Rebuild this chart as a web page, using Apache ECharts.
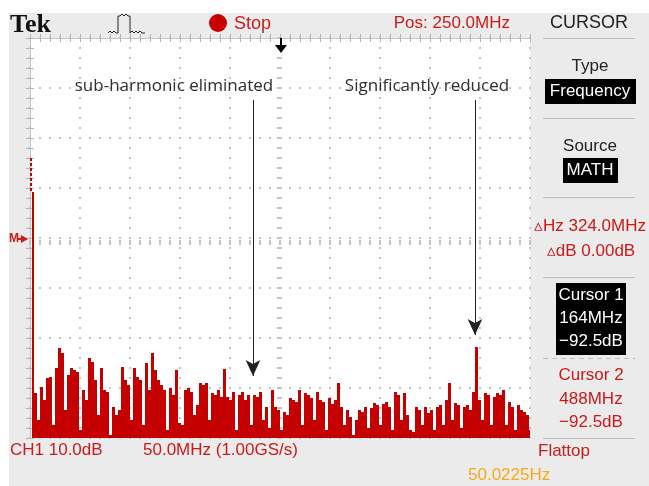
<!DOCTYPE html>
<html>
<head>
<meta charset="UTF-8">
<title>Spectrum</title>
<script src="https://cdn.jsdelivr.net/npm/echarts@6/dist/echarts.min.js"></script>
<style>
html,body{margin:0;padding:0;background:#fff;}
#main{width:649px;height:486px;}
</style>
</head>
<body>
<div id="main"></div>
<script>
// FFT trace: 0..500 MHz, 10 dB/div, 8 div (top = 0 dB)
var freqStartMHz = 4;
var binMHz = 3;
var noiseDb = [
  -71.0,-76.4,-69.8,-72.4,-68.0,-67.8,-77.4,-66.0,-62.0,-63.0,
  -74.4,-67.4,-66.0,-66.4,-66.8,-78.4,-70.4,-72.4,-64.0,-64.8,
  -68.4,-75.4,-66.0,-70.4,-70.8,-79.4,-73.8,-75.4,-74.4,-65.8,
  -68.4,-69.4,-76.4,-66.0,-67.8,-68.4,-77.4,-65.0,-70.4,-63.0,
  -66.4,-68.4,-69.4,-70.4,-78.4,-70.0,-71.4,-66.4,-77.0,-77.4,
  -70.4,-70.0,-70.8,-75.4,-73.4,-69.0,-69.4,-69.0,-76.4,-71.0,
  -71.4,-70.4,-71.8,-66.2,-71.8,-72.4,-70.8,-78.4,-71.4,-70.8,
  -72.4,-71.4,-77.4,-71.4,-71.8,-70.8,-76.4,-73.8,-78.0,-70.4,
  -73.8,-74.4,-78.4,-74.8,-75.4,-72.0,-72.4,-72.8,-70.4,-77.4,
  -71.0,-71.4,-72.0,-76.4,-70.8,-72.4,-72.8,-78.4,-72.0,-73.2,
  -72.4,-69.0,-73.8,-77.4,-74.4,-75.8,-79.4,-76.4,-74.4,-74.8,
  -73.8,-78.0,-74.0,-73.0,-73.4,-77.4,-73.2,-72.8,-73.8,-78.4,
  -70.8,-71.4,-76.4,-71.0,-75.4,-78.4,-78.8,-73.8,-74.4,-77.4,
  -73.8,-75.0,-74.4,-78.4,-73.8,-73.4,-77.4,-72.4,-69.0,-76.4,
  -73.0,-73.4,-78.0,-73.8,-73.4,-74.4,-70.8,-61.8,-72.4,-76.4,
  -71.0,-71.4,-77.4,-71.8,-71.0,-71.4,-70.4,-77.4,-72.8,-73.8,
  -78.4,-73.4,-74.4,-74.8,-75.4,-78.4
];
// DC spike: dashed top part, then solid part
var dcMHz = [1, 2];
var dcDb = [-24.0, -30.8];

// annotation arrows [MHz, from dB, to dB]
var arrowMHz = [223, 445];
var arrowFromDb = [-12.4, -12.4];
var arrowToDb = [-67.6, -59.4];
var arrowLabels = ['sub-harmonic eliminated', 'Significantly reduced'];

var yMin = -80, yMax = 0;
var RED = '#cc1a1a';
var TRACE = '#c40000';
var GRID = '#c4c4c4';
var SCOPE_FONT = 'Liberation Sans, Arial, sans-serif';

var barData = [[dcMHz[1], dcDb[1], 2]];
for (var i = 0; i < noiseDb.length; i++) {
  barData.push([freqStartMHz + i * binMHz, noiseDb[i], binMHz]);
}

function renderBar(params, api) {
  var f = api.value(0), v = api.value(1), w = api.value(2);
  if (v <= yMin) return;
  var p0 = api.coord([f, v]);
  var p1 = api.coord([f + w, yMin]);
  return {
    type: 'rect',
    shape: { x: p0[0], y: p0[1], width: p1[0] - p0[0], height: p1[1] - p0[1] },
    style: { fill: TRACE }
  };
}

var markData = [];
for (var k = 0; k < arrowMHz.length; k++) {
  markData.push([
    { coord: [arrowMHz[k], arrowFromDb[k]], symbol: 'none' },
    { coord: [arrowMHz[k], arrowToDb[k]], symbol: 'arrow', symbolSize: [11, 16] }
  ]);
}

function txt(x, y, s, color, size, align, extra) {
  var st = {
    text: s, x: x, y: y, fill: color,
    fontSize: size, fontFamily: SCOPE_FONT,
    textAlign: align || 'left', textVerticalAlign: 'middle'
  };
  for (var key in (extra || {})) st[key] = extra[key];
  return { type: 'text', z: 20, style: st };
}
function hline(x1, x2, y, dash) {
  return { type: 'line', z: 20, shape: { x1: x1, y1: y, x2: x2, y2: y },
    style: { stroke: '#bdbdbd', lineWidth: 1, lineDash: dash || null } };
}
function box(x, y, w, h) {
  return { type: 'rect', z: 19, shape: { x: x, y: y, width: w, height: h }, style: { fill: '#000' } };
}
function note(x, s) {
  return { type: 'text', z: 20, style: { text: s, x: x, y: 86, fill: '#2e2e2e', fontSize: 17,
    fontFamily: 'Open Sans, Roboto, sans-serif', textAlign: 'center', textVerticalAlign: 'middle' } };
}

var graphics = [
  // white page margins around the grey scope frame
  { type: 'rect', z: 1, shape: { x: 0, y: 0, width: 649, height: 13 }, style: { fill: '#fff' } },
  { type: 'rect', z: 1, shape: { x: 0, y: 0, width: 9, height: 486 }, style: { fill: '#fff' } },
  // top bar
  txt(10, 25, 'Tek', '#111', 26, 'left', { fontFamily: 'Liberation Serif, serif', fontWeight: 'bold' }),
  { type: 'polyline', z: 20, shape: { points: [[108,33],[110,31],[112,33],[114,31],[116,33],[118,33],[118,16],[120,16],[122,14],[124,16],[126,14],[128,16],[130,16],[130,33],[132,31],[134,33],[136,31],[138,33],[140,31],[142,33],[145,33]] },
    style: { stroke: '#222', lineWidth: 1, fill: null } },
  { type: 'circle', z: 20, shape: { cx: 218, cy: 23, r: 9 }, style: { fill: '#c80000' } },
  txt(234, 24, 'Stop', RED, 18),
  txt(510, 23, 'Pos: 250.0MHz', RED, 17, 'right'),
  txt(589, 23, 'CURSOR', '#222', 18, 'center'),
  hline(543, 635, 38.5),
  // trigger position marker
  { type: 'line', z: 20, shape: { x1: 281, y1: 38, x2: 281, y2: 47 }, style: { stroke: '#000', lineWidth: 2 } },
  { type: 'polygon', z: 20, shape: { points: [[275,45],[287,45],[281,53]] }, style: { fill: '#000' } },
  // reference marker
  txt(9, 239, 'M', RED, 12, 'left', { fontWeight: 'bold' }),
  { type: 'polygon', z: 20, shape: { points: [[21,235],[28,239],[21,243]] }, style: { fill: RED } },
  { type: 'line', z: 20, shape: { x1: 18, y1: 239, x2: 24, y2: 239 }, style: { stroke: RED, lineWidth: 2 } },
  // right menu
  txt(590, 66, 'Type', '#222', 17, 'center'),
  box(545, 79, 91, 25),
  txt(590, 91, 'Frequency', '#fff', 17, 'center'),
  hline(543, 635, 118.5),
  txt(590, 146, 'Source', '#222', 17, 'center'),
  box(563, 158, 55, 25),
  txt(590, 170, 'MATH', '#fff', 17, 'center'),
  hline(543, 635, 197.5),
  txt(590, 226, '\u25B5Hz 324.0MHz', RED, 17, 'center'),
  txt(591, 251, '\u25B5dB 0.00dB', RED, 17, 'center'),
  hline(543, 635, 277.5),
  box(556, 283, 70, 72),
  txt(591, 295, 'Cursor 1', '#fff', 17, 'center'),
  txt(591, 318, '164MHz', '#fff', 17, 'center'),
  txt(591, 341, '\u221292.5dB', '#fff', 17, 'center'),
  hline(543, 635, 358.5, [5, 4]),
  txt(591, 375, 'Cursor 2', RED, 17, 'center'),
  txt(591, 399, '488MHz', RED, 17, 'center'),
  txt(591, 422, '\u221292.5dB', RED, 17, 'center'),
  hline(543, 635, 438.5),
  txt(538, 451, 'Flattop', RED, 17),
  // bottom readouts
  txt(10, 450, 'CH1 10.0dB', RED, 17),
  txt(143, 450, '50.0MHz (1.00GS/s)', RED, 17),
  txt(468, 475, '50.0225Hz', '#f7a81b', 17),
  // annotations
  note(174, arrowLabels[0]),
  note(427, arrowLabels[1])
];

function edgeAxis(pos, extra) {
  var a = {
    type: 'value', position: pos, min: pos === 'top' || pos === 'bottom' ? 0 : yMin,
    max: pos === 'top' || pos === 'bottom' ? 500 : yMax,
    interval: pos === 'top' || pos === 'bottom' ? 50 : 10,
    axisLine: { show: true, lineStyle: { color: GRID, width: 1 } },
    axisTick: { show: true, inside: true, length: 4, lineStyle: { color: '#b5b5b5' } },
    minorTick: { show: true, splitNumber: 5, length: 4, lineStyle: { color: '#b5b5b5' } },
    axisLabel: { show: false },
    splitLine: { show: false }
  };
  for (var key in (extra || {})) a[key] = extra[key];
  return a;
}
var dotted = { show: true, lineStyle: { color: GRID, width: 2, type: [2, 8], dashOffset: 1 } };
var centerTick = { show: true, inside: false, length: 5, lineStyle: { color: GRID, width: 2 } };
var centerMinor = { show: true, splitNumber: 5, length: 5, lineStyle: { color: GRID, width: 2 } };

var chart = echarts.init(document.getElementById('main'), null, { renderer: 'canvas' });
chart.setOption({
  animation: false,
  backgroundColor: '#ebebeb',
  grid: { left: 30, top: 38, width: 500, height: 400, show: true, backgroundColor: '#fff', borderWidth: 0 },
  xAxis: [
    edgeAxis('bottom', { splitLine: dotted }),
    edgeAxis('top'),
    edgeAxis('bottom', { offset: -202, axisLine: { show: false }, axisTick: centerTick, minorTick: centerMinor })
  ],
  yAxis: [
    edgeAxis('left', { splitLine: dotted }),
    edgeAxis('right'),
    edgeAxis('left', { offset: -252, axisLine: { show: false }, axisTick: centerTick, minorTick: centerMinor })
  ],
  graphic: graphics,
  series: [
    {
      type: 'custom', name: 'trace', renderItem: renderBar, data: barData,
      clip: true, silent: true, z: 5
    },
    {
      type: 'line', name: 'dc', data: [[dcMHz[0], dcDb[0]], [dcMHz[0], dcDb[1]]],
      showSymbol: false, silent: true, z: 6,
      lineStyle: { color: TRACE, width: 2, type: [3, 2] },
      markLine: {
        silent: true, animation: false,
        label: { show: false },
        lineStyle: { color: '#222', width: 1, type: 'solid' },
        data: markData
      }
    }
  ]
});
</script>
</body>
</html>
